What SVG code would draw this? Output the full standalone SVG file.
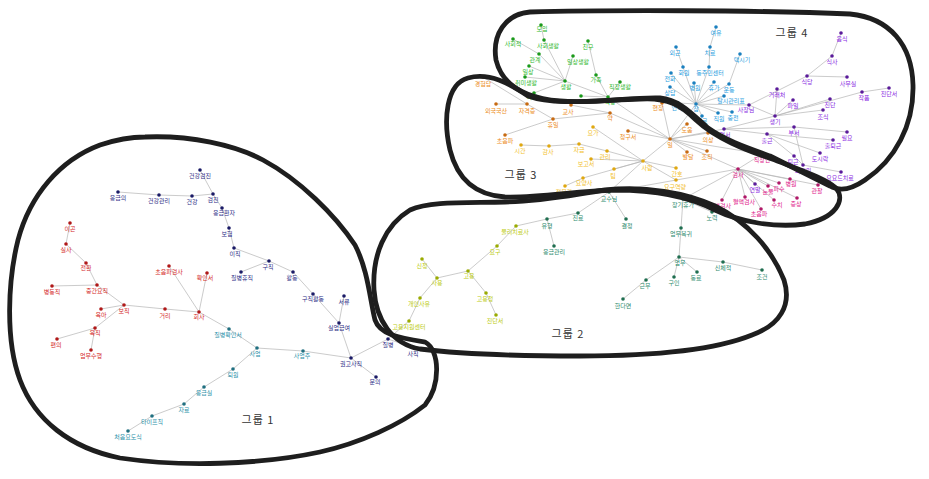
<svg xmlns="http://www.w3.org/2000/svg" width="929" height="479" viewBox="0 0 929 479">
<style>
text{font-family:"Noto Sans CJK KR","Noto Sans",sans-serif;font-size:6px;text-anchor:middle}
circle{r:1.8}
.nv circle{fill:#1a1a66}.nv text{fill:#2e2e86}
.tl circle{fill:#1f6f80}.tl text{fill:#2a90a8}
.rd circle{fill:#b01818}.rd text{fill:#d42828}
.yg circle{fill:#9aab00}.yg text{fill:#bccb10}
.gn circle{fill:#1f6e50}.gn text{fill:#2e8b6e}
.or circle{fill:#c86a10}.or text{fill:#ec8c22}
.yl circle{fill:#e0a810}.yl text{fill:#f2c12e}
.gg circle{fill:#1a9a1a}.gg text{fill:#2cb82c}
.bl circle{fill:#1a80c0}.bl text{fill:#2a9ee0}
.pu circle{fill:#5a1a9a}.pu text{fill:#8a2be2}
.mg circle{fill:#b01868}.mg text{fill:#e0208a}
#edges line{stroke:#b4b4b4;stroke-width:0.7}
.hull{fill:none;stroke:#1e1e1e;stroke-width:4.8;stroke-linejoin:round}
.gl{font-size:11px;fill:#333;letter-spacing:1px}
</style>
<rect width="929" height="479" fill="#fff"/>
<g id="edges">
<line x1="118" y1="192" x2="159" y2="195"/><line x1="159" y1="195" x2="192" y2="196"/><line x1="192" y1="196" x2="213" y2="194"/><line x1="213" y1="194" x2="200" y2="170"/><line x1="213" y1="194" x2="222" y2="208"/><line x1="222" y1="208" x2="229" y2="228"/><line x1="229" y1="228" x2="234" y2="248"/><line x1="234" y1="248" x2="269" y2="261"/><line x1="269" y1="261" x2="241" y2="272"/><line x1="269" y1="261" x2="293" y2="272"/><line x1="293" y1="272" x2="313" y2="294"/><line x1="313" y1="294" x2="339" y2="323"/><line x1="344" y1="296" x2="339" y2="323"/><line x1="339" y1="323" x2="351" y2="358"/><line x1="351" y1="358" x2="388" y2="339"/><line x1="388" y1="339" x2="414" y2="348"/><line x1="351" y1="358" x2="376" y2="377"/><line x1="351" y1="358" x2="303" y2="351"/><line x1="303" y1="351" x2="257" y2="348"/><line x1="257" y1="348" x2="229" y2="329"/><line x1="229" y1="329" x2="199" y2="312"/><line x1="257" y1="348" x2="233" y2="369"/><line x1="233" y1="369" x2="204" y2="387"/><line x1="204" y1="387" x2="184" y2="404"/><line x1="184" y1="404" x2="152" y2="416"/><line x1="152" y1="416" x2="128" y2="431"/><line x1="199" y1="312" x2="207" y2="273"/><line x1="199" y1="312" x2="169" y2="266"/><line x1="199" y1="312" x2="165" y2="309"/><line x1="165" y1="309" x2="124" y2="305"/><line x1="124" y1="305" x2="97" y2="285"/><line x1="97" y1="285" x2="52" y2="286"/><line x1="97" y1="285" x2="86" y2="263"/><line x1="86" y1="263" x2="66" y2="244"/><line x1="66" y1="244" x2="70" y2="223"/><line x1="124" y1="305" x2="101" y2="309"/><line x1="124" y1="305" x2="95" y2="328"/><line x1="95" y1="328" x2="57" y2="339"/><line x1="95" y1="328" x2="91" y2="350"/><line x1="388" y1="339" x2="409" y2="321"/>
<line x1="516" y1="226" x2="547" y2="219"/><line x1="547" y1="219" x2="578" y2="213"/><line x1="547" y1="219" x2="554" y2="246"/><line x1="516" y1="226" x2="497" y2="246"/><line x1="497" y1="246" x2="468" y2="271"/><line x1="468" y1="271" x2="437" y2="278"/><line x1="437" y1="278" x2="422" y2="259"/><line x1="437" y1="278" x2="420" y2="298"/><line x1="420" y1="298" x2="409" y2="321"/><line x1="468" y1="271" x2="486" y2="293"/><line x1="486" y1="293" x2="496" y2="315"/><line x1="578" y1="213" x2="609" y2="192"/><line x1="609" y1="192" x2="626" y2="219"/><line x1="609" y1="192" x2="738" y2="169"/><line x1="683" y1="199" x2="738" y2="169"/><line x1="683" y1="199" x2="712" y2="212"/><line x1="683" y1="199" x2="681" y2="228"/><line x1="681" y1="228" x2="679" y2="257"/><line x1="679" y1="257" x2="723" y2="262"/><line x1="723" y1="262" x2="762" y2="270"/><line x1="679" y1="257" x2="697" y2="272"/><line x1="679" y1="257" x2="674" y2="277"/><line x1="679" y1="257" x2="646" y2="280"/><line x1="646" y1="280" x2="623" y2="299"/><line x1="643" y1="161" x2="609" y2="192"/>
<line x1="483" y1="77" x2="527" y2="104"/><line x1="496" y1="104" x2="527" y2="104"/><line x1="527" y1="104" x2="553" y2="119"/><line x1="553" y1="119" x2="505" y2="135"/><line x1="553" y1="119" x2="610" y2="113"/><line x1="571" y1="105" x2="610" y2="113"/><line x1="610" y1="113" x2="670" y2="139"/><line x1="628" y1="131" x2="670" y2="139"/><line x1="662" y1="103" x2="670" y2="139"/><line x1="687" y1="124" x2="670" y2="139"/><line x1="687" y1="152" x2="670" y2="139"/><line x1="708" y1="133" x2="670" y2="139"/><line x1="707" y1="151" x2="670" y2="139"/><line x1="670" y1="139" x2="643" y2="161"/><line x1="521" y1="145" x2="549" y2="146"/><line x1="549" y1="146" x2="579" y2="144"/><line x1="579" y1="144" x2="607" y2="151"/><line x1="607" y1="151" x2="643" y2="161"/><line x1="593" y1="127" x2="643" y2="161"/><line x1="591" y1="159" x2="643" y2="161"/><line x1="614" y1="169" x2="643" y2="161"/><line x1="565" y1="186" x2="583" y2="178"/><line x1="583" y1="178" x2="643" y2="161"/><line x1="643" y1="161" x2="676" y2="168"/><line x1="643" y1="161" x2="676" y2="180"/>
<line x1="541" y1="25" x2="544" y2="40"/><line x1="544" y1="40" x2="565" y2="81"/><line x1="513" y1="39" x2="539" y2="54"/><line x1="539" y1="54" x2="565" y2="81"/><line x1="573" y1="56" x2="565" y2="81"/><line x1="529" y1="66" x2="565" y2="81"/><line x1="525" y1="77" x2="565" y2="81"/><line x1="534" y1="93" x2="565" y2="81"/><line x1="565" y1="81" x2="608" y2="97"/><line x1="588" y1="41" x2="596" y2="75"/><line x1="596" y1="75" x2="608" y2="97"/><line x1="620" y1="82" x2="608" y2="97"/><line x1="581" y1="96" x2="608" y2="97"/><line x1="608" y1="97" x2="670" y2="139"/>
<line x1="670" y1="139" x2="696" y2="104"/><line x1="670" y1="139" x2="724" y2="129"/><line x1="670" y1="139" x2="738" y2="169"/><line x1="670" y1="139" x2="762" y2="154"/>
<line x1="716" y1="27" x2="710" y2="47"/><line x1="710" y1="47" x2="709" y2="67"/><line x1="709" y1="67" x2="696" y2="104"/><line x1="676" y1="47" x2="683" y2="67"/><line x1="683" y1="67" x2="696" y2="104"/><line x1="740" y1="54" x2="729" y2="84"/><line x1="729" y1="84" x2="696" y2="104"/><line x1="671" y1="73" x2="696" y2="104"/><line x1="694" y1="83" x2="696" y2="104"/><line x1="714" y1="82" x2="696" y2="104"/><line x1="670" y1="87" x2="696" y2="104"/><line x1="724" y1="96" x2="696" y2="104"/><line x1="678" y1="103" x2="696" y2="104"/><line x1="702" y1="116" x2="696" y2="104"/><line x1="718" y1="113" x2="696" y2="104"/><line x1="732" y1="112" x2="696" y2="104"/><line x1="696" y1="104" x2="749" y2="105"/>
<line x1="841" y1="33" x2="832" y2="56"/><line x1="832" y1="56" x2="807" y2="76"/><line x1="807" y1="76" x2="847" y2="77"/><line x1="807" y1="76" x2="749" y2="105"/><line x1="777" y1="89" x2="775" y2="116"/><line x1="793" y1="100" x2="775" y2="116"/><line x1="775" y1="116" x2="862" y2="92"/><line x1="862" y1="92" x2="889" y2="88"/><line x1="830" y1="99" x2="775" y2="116"/><line x1="823" y1="110" x2="775" y2="116"/><line x1="749" y1="105" x2="775" y2="116"/><line x1="775" y1="116" x2="724" y2="129"/><line x1="724" y1="129" x2="794" y2="127"/><line x1="724" y1="129" x2="767" y2="134"/><line x1="794" y1="127" x2="847" y2="132"/><line x1="794" y1="127" x2="803" y2="165"/><line x1="767" y1="134" x2="833" y2="140"/><line x1="767" y1="134" x2="820" y2="153"/><line x1="767" y1="134" x2="794" y2="156"/><line x1="803" y1="165" x2="841" y2="172"/><line x1="794" y1="156" x2="803" y2="165"/>
<line x1="738" y1="169" x2="762" y2="154"/><line x1="738" y1="169" x2="818" y2="185"/><line x1="738" y1="169" x2="790" y2="179"/><line x1="738" y1="169" x2="779" y2="183"/><line x1="738" y1="169" x2="755" y2="184"/><line x1="738" y1="169" x2="768" y2="186"/><line x1="738" y1="169" x2="745" y2="197"/><line x1="738" y1="169" x2="774" y2="200"/><line x1="738" y1="169" x2="761" y2="209"/><line x1="738" y1="169" x2="797" y2="198"/><line x1="738" y1="169" x2="722" y2="200"/>
</g>
<g id="nodes">
<g id="a1" class="nv"><circle cx="200" cy="170"/><text x="200" y="178">건강검진</text></g>
<g id="a2" class="nv"><circle cx="118" cy="192"/><text x="118" y="200">응급의</text></g>
<g id="a3" class="nv"><circle cx="159" cy="195"/><text x="159" y="203">건강관리</text></g>
<g id="a4" class="nv"><circle cx="192" cy="196"/><text x="192" y="204">건강</text></g>
<g id="a5" class="nv"><circle cx="213" cy="194"/><text x="213" y="202">검진</text></g>
<g id="a6" class="nv"><circle cx="222" cy="208"/><text x="224" y="215">응급환자</text></g>
<g id="a7" class="nv"><circle cx="229" cy="228"/><text x="227" y="236">보험</text></g>
<g id="a8" class="nv"><circle cx="234" cy="248"/><text x="235" y="256">이직</text></g>
<g id="a9" class="nv"><circle cx="269" cy="261"/><text x="268" y="269">구직</text></g>
<g id="a10" class="nv"><circle cx="241" cy="272"/><text x="242" y="280">질병휴직</text></g>
<g id="a11" class="nv"><circle cx="293" cy="272"/><text x="292" y="280">활동</text></g>
<g id="a12" class="nv"><circle cx="313" cy="294"/><text x="313" y="301">구직활동</text></g>
<g id="a13" class="nv"><circle cx="344" cy="296"/><text x="344" y="304">서류</text></g>
<g id="a14" class="nv"><circle cx="339" cy="323"/><text x="339" y="330">실업급여</text></g>
<g id="a15" class="nv"><circle cx="351" cy="358"/><text x="351" y="366">권고사직</text></g>
<g id="a16" class="nv"><circle cx="388" cy="339"/><text x="388" y="347">질병</text></g>
<g id="a17" class="nv"><circle cx="414" cy="348"/><text x="413" y="356">사직</text></g>
<g id="a18" class="nv"><circle cx="376" cy="377"/><text x="375" y="384">문의</text></g>
<g id="b1" class="tl"><circle cx="303" cy="351"/><text x="302" y="358">사업주</text></g>
<g id="b2" class="tl"><circle cx="257" cy="348"/><text x="255" y="356">사업</text></g>
<g id="b3" class="tl"><circle cx="229" cy="329"/><text x="228" y="337">질병확인서</text></g>
<g id="b4" class="tl"><circle cx="233" cy="369"/><text x="233" y="377">퇴원</text></g>
<g id="b5" class="tl"><circle cx="204" cy="387"/><text x="204" y="395">응급실</text></g>
<g id="b6" class="tl"><circle cx="184" cy="404"/><text x="184" y="412">자료</text></g>
<g id="b7" class="tl"><circle cx="152" cy="416"/><text x="152" y="424">타이프칙</text></g>
<g id="b8" class="tl"><circle cx="128" cy="431"/><text x="128" y="439">처음요도식</text></g>
<g id="c1" class="rd"><circle cx="70" cy="223"/><text x="70" y="231">이곤</text></g>
<g id="c2" class="rd"><circle cx="66" cy="244"/><text x="66" y="252">실사</text></g>
<g id="c3" class="rd"><circle cx="86" cy="263"/><text x="86" y="270">전환</text></g>
<g id="c4" class="rd"><circle cx="169" cy="266"/><text x="169" y="274">초음파검사</text></g>
<g id="c5" class="rd"><circle cx="207" cy="273"/><text x="205" y="280">확인서</text></g>
<g id="c6" class="rd"><circle cx="52" cy="286"/><text x="52" y="294">병동직</text></g>
<g id="c7" class="rd"><circle cx="97" cy="285"/><text x="97" y="293">중간요직</text></g>
<g id="c8" class="rd"><circle cx="124" cy="305"/><text x="124" y="313">보직</text></g>
<g id="c9" class="rd"><circle cx="101" cy="309"/><text x="101" y="317">육아</text></g>
<g id="c10" class="rd"><circle cx="95" cy="328"/><text x="95" y="335">육직</text></g>
<g id="c11" class="rd"><circle cx="57" cy="339"/><text x="56" y="347">편의</text></g>
<g id="c12" class="rd"><circle cx="91" cy="350"/><text x="91" y="358">업무수행</text></g>
<g id="c13" class="rd"><circle cx="165" cy="309"/><text x="165" y="318">거리</text></g>
<g id="c14" class="rd"><circle cx="199" cy="312"/><text x="199" y="319">회사</text></g>
<g id="d1" class="yg"><circle cx="516" cy="226"/><text x="515" y="234">물리치료사</text></g>
<g id="d2" class="yg"><circle cx="497" cy="246"/><text x="495" y="254">요구</text></g>
<g id="d3" class="yg"><circle cx="468" cy="271"/><text x="469" y="278">고용</text></g>
<g id="d4" class="yg"><circle cx="437" cy="278"/><text x="437" y="285">사용</text></g>
<g id="d5" class="yg"><circle cx="422" cy="259"/><text x="422" y="268">신청</text></g>
<g id="d6" class="yg"><circle cx="420" cy="298"/><text x="419" y="306">개인사유</text></g>
<g id="d7" class="yg"><circle cx="409" cy="321"/><text x="409" y="329">고용지원센터</text></g>
<g id="d8" class="yg"><circle cx="486" cy="293"/><text x="485" y="301">고용청</text></g>
<g id="d9" class="yg"><circle cx="496" cy="315"/><text x="495" y="323">진단서</text></g>
<g id="e1" class="gn"><circle cx="547" cy="219"/><text x="547" y="228">유형</text></g>
<g id="e2" class="gn"><circle cx="578" cy="213"/><text x="578" y="220">진료</text></g>
<g id="e3" class="gn"><circle cx="554" cy="246"/><text x="554" y="254">응급관리</text></g>
<g id="e4" class="gn"><circle cx="609" cy="192"/><text x="609" y="201">교수님</text></g>
<g id="e5" class="gn"><circle cx="626" cy="219"/><text x="627" y="228">결정</text></g>
<g id="e6" class="gn"><circle cx="683" cy="199"/><text x="683" y="207">장기휴가</text></g>
<g id="e7" class="gn"><circle cx="712" cy="212"/><text x="712" y="220">노력</text></g>
<g id="e8" class="gn"><circle cx="681" cy="228"/><text x="681" y="236">업무복귀</text></g>
<g id="e9" class="gn"><circle cx="679" cy="257"/><text x="680" y="265">업무</text></g>
<g id="e10" class="gn"><circle cx="723" cy="262"/><text x="723" y="270">신체적</text></g>
<g id="e11" class="gn"><circle cx="762" cy="270"/><text x="762" y="279">조건</text></g>
<g id="e12" class="gn"><circle cx="697" cy="272"/><text x="696" y="280">동료</text></g>
<g id="e13" class="gn"><circle cx="674" cy="277"/><text x="674" y="285">구인</text></g>
<g id="e14" class="gn"><circle cx="646" cy="280"/><text x="645" y="288">근무</text></g>
<g id="e15" class="gn"><circle cx="623" cy="299"/><text x="623" y="308">한다면</text></g>
<g id="f1" class="or"><circle cx="483" cy="77"/><text x="483" y="86">경험담</text></g>
<g id="f2" class="or"><circle cx="496" cy="104"/><text x="496" y="113">외국국산</text></g>
<g id="f3" class="or"><circle cx="527" cy="104"/><text x="527" y="113">자격증</text></g>
<g id="f4" class="or"><circle cx="553" cy="119"/><text x="553" y="127">휴일</text></g>
<g id="f5" class="or"><circle cx="505" cy="135"/><text x="505" y="143">초음파</text></g>
<g id="f6" class="or"><circle cx="571" cy="105"/><text x="568" y="114">교사</text></g>
<g id="f7" class="or"><circle cx="610" cy="113"/><text x="610" y="120">약</text></g>
<g id="f8" class="or"><circle cx="628" cy="131"/><text x="628" y="139">청구서</text></g>
<g id="f9" class="or"><circle cx="662" cy="103"/><text x="658" y="110">현장</text></g>
<g id="f10" class="or"><circle cx="670" cy="139"/><text x="670" y="147">일</text></g>
<g id="f11" class="or"><circle cx="687" cy="124"/><text x="687" y="132">도움</text></g>
<g id="f12" class="or"><circle cx="687" cy="152"/><text x="688" y="159">발달</text></g>
<g id="f13" class="or"><circle cx="708" cy="133"/><text x="708" y="142">의상</text></g>
<g id="f14" class="or"><circle cx="707" cy="151"/><text x="707" y="159">조직</text></g>
<g id="g1" class="yl"><circle cx="593" cy="127"/><text x="593" y="135">요가</text></g>
<g id="g2" class="yl"><circle cx="521" cy="145"/><text x="520" y="153">시간</text></g>
<g id="g3" class="yl"><circle cx="549" cy="146"/><text x="548" y="154">감사</text></g>
<g id="g4" class="yl"><circle cx="579" cy="144"/><text x="579" y="152">자금</text></g>
<g id="g5" class="yl"><circle cx="607" cy="151"/><text x="605" y="159">관리</text></g>
<g id="g6" class="yl"><circle cx="591" cy="159"/><text x="586" y="166">보고서</text></g>
<g id="g7" class="yl"><circle cx="614" cy="169"/><text x="613" y="178">팀</text></g>
<g id="g8" class="yl"><circle cx="583" cy="178"/><text x="584" y="185">요양사</text></g>
<g id="g9" class="yl"><circle cx="565" cy="186"/><text x="564" y="194">전문가</text></g>
<g id="g10" class="yl"><circle cx="643" cy="161"/><text x="647" y="170">사람</text></g>
<g id="g11" class="yl"><circle cx="676" cy="168"/><text x="677" y="176">간호</text></g>
<g id="g12" class="yl"><circle cx="676" cy="180"/><text x="675" y="189">요구역량</text></g>
<g id="h1" class="gg"><circle cx="541" cy="25"/><text x="542" y="31">모임</text></g>
<g id="h2" class="gg"><circle cx="513" cy="39"/><text x="513" y="46">사회적</text></g>
<g id="h3" class="gg"><circle cx="544" cy="40"/><text x="548" y="48">사회생활</text></g>
<g id="h4" class="gg"><circle cx="588" cy="41"/><text x="588" y="49">친구</text></g>
<g id="h5" class="gg"><circle cx="539" cy="54"/><text x="535" y="62">관계</text></g>
<g id="h6" class="gg"><circle cx="573" cy="56"/><text x="578" y="64">일상생활</text></g>
<g id="h7" class="gg"><circle cx="529" cy="66"/><text x="528" y="74">일상</text></g>
<g id="h8" class="gg"><circle cx="596" cy="75"/><text x="596" y="82">가족</text></g>
<g id="h9" class="gg"><circle cx="620" cy="82"/><text x="620" y="89">직장생활</text></g>
<g id="h10" class="gg"><circle cx="525" cy="77"/><text x="526" y="85">취미생활</text></g>
<g id="h11" class="gg"><circle cx="565" cy="81"/><text x="566" y="89">생활</text></g>
<g id="h12" class="gg"><circle cx="534" cy="93"/><text x="532" y="99">여가</text></g>
<g id="h13" class="gg"><circle cx="581" cy="96"/></g>
<g id="h14" class="gg"><circle cx="608" cy="97"/><text x="610" y="104">직장</text></g>
<g id="i0" class="bl"><circle cx="696" cy="104"/><text x="696" y="111">잠</text></g>
<g id="i1" class="bl"><circle cx="716" cy="27"/><text x="716" y="35">여유</text></g>
<g id="i2" class="bl"><circle cx="710" cy="47"/><text x="710" y="55">치료</text></g>
<g id="i3" class="bl"><circle cx="676" cy="47"/><text x="675" y="55">외근</text></g>
<g id="i4" class="bl"><circle cx="740" cy="54"/><text x="742" y="62">택시기</text></g>
<g id="i5" class="bl"><circle cx="709" cy="67"/><text x="710" y="75">동주민센터</text></g>
<g id="i6" class="bl"><circle cx="683" cy="67"/><text x="684" y="75">화원</text></g>
<g id="i7" class="bl"><circle cx="671" cy="73"/><text x="670" y="81">전화</text></g>
<g id="i8" class="bl"><circle cx="694" cy="83"/><text x="695" y="90">병원</text></g>
<g id="i9" class="bl"><circle cx="714" cy="82"/><text x="714" y="90">휴가</text></g>
<g id="i10" class="bl"><circle cx="729" cy="84"/><text x="729" y="92">운동</text></g>
<g id="i11" class="bl"><circle cx="670" cy="87"/><text x="670" y="95">상담</text></g>
<g id="i12" class="bl"><circle cx="724" cy="96"/><text x="731" y="103">탈시관리표</text></g>
<g id="i13" class="bl"><circle cx="678" cy="103"/><text x="677" y="110">연락</text></g>
<g id="i14" class="bl"><circle cx="702" cy="116"/><text x="702" y="123">진료</text></g>
<g id="i15" class="bl"><circle cx="718" cy="113"/><text x="719" y="121">직원</text></g>
<g id="i16" class="bl"><circle cx="732" cy="112"/><text x="733" y="120">충전</text></g>
<g id="j1" class="pu"><circle cx="841" cy="33"/><text x="842" y="41">음식</text></g>
<g id="j2" class="pu"><circle cx="832" cy="56"/><text x="832" y="64">식사</text></g>
<g id="j3" class="pu"><circle cx="807" cy="76"/><text x="807" y="84">식당</text></g>
<g id="j4" class="pu"><circle cx="847" cy="77"/><text x="848" y="86">사무실</text></g>
<g id="j5" class="pu"><circle cx="777" cy="89"/><text x="777" y="97">거래처</text></g>
<g id="j6" class="pu"><circle cx="862" cy="92"/><text x="864" y="100">작품</text></g>
<g id="j7" class="pu"><circle cx="889" cy="88"/><text x="889" y="96">진단서</text></g>
<g id="j8" class="pu"><circle cx="793" cy="100"/><text x="793" y="108">파일</text></g>
<g id="j9" class="pu"><circle cx="749" cy="105"/><text x="746" y="112">사장님</text></g>
<g id="j10" class="pu"><circle cx="775" cy="116"/><text x="775" y="124">생기</text></g>
<g id="j11" class="pu"><circle cx="830" cy="99"/><text x="830" y="107">진단</text></g>
<g id="j12" class="pu"><circle cx="823" cy="110"/><text x="823" y="119">조식</text></g>
<g id="j13" class="pu"><circle cx="724" cy="129"/><text x="725" y="137">업서</text></g>
<g id="j14" class="pu"><circle cx="794" cy="127"/><text x="794" y="135">부서</text></g>
<g id="j15" class="pu"><circle cx="847" cy="132"/><text x="847" y="140">필요</text></g>
<g id="j16" class="pu"><circle cx="767" cy="134"/><text x="767" y="143">출근</text></g>
<g id="j17" class="pu"><circle cx="833" cy="140"/><text x="833" y="148">출퇴근</text></g>
<g id="j18" class="pu"><circle cx="820" cy="153"/><text x="820" y="161">도시락</text></g>
<g id="j19" class="pu"><circle cx="794" cy="156"/><text x="793" y="164">퇴근</text></g>
<g id="j20" class="pu"><circle cx="803" cy="165"/><text x="803" y="173">퇴직원</text></g>
<g id="j21" class="pu"><circle cx="841" cy="172"/><text x="840" y="180">요요드치료</text></g>
<g id="k0" class="mg"><circle cx="738" cy="169"/><text x="738" y="177">검사</text></g>
<g id="k1" class="mg"><circle cx="762" cy="154"/><text x="762" y="162">직장인</text></g>
<g id="k2" class="mg"><circle cx="818" cy="185"/><text x="817" y="193">관찰</text></g>
<g id="k3" class="mg"><circle cx="790" cy="179"/><text x="791" y="186">병원</text></g>
<g id="k4" class="mg"><circle cx="779" cy="183"/><text x="779" y="191">파수</text></g>
<g id="k5" class="pu"><circle cx="755" cy="184"/><text x="755" y="192">연말</text></g>
<g id="k6" class="mg"><circle cx="768" cy="186"/><text x="768" y="194">눈물</text></g>
<g id="k7" class="mg"><circle cx="745" cy="197"/><text x="744" y="204">혈액검사</text></g>
<g id="k8" class="mg"><circle cx="774" cy="200"/><text x="777" y="207">수치</text></g>
<g id="k9" class="mg"><circle cx="761" cy="209"/><text x="759" y="216">초음파</text></g>
<g id="k10" class="mg"><circle cx="797" cy="198"/><text x="796" y="206">증상</text></g>
<g id="k11" class="mg"><circle cx="722" cy="200"/><text x="720" y="208">소변검사</text></g>
</g>
<g id="groups">
<path class="hull" d="M145,137 C190,135 235,145 263,160 C300,180 335,215 355,245 C368,270 370,300 375,320 C380,335 400,338 425,342 C440,350 441,385 425,405 C400,425 360,443 320,452 C260,465 180,467 120,458 C70,448 35,420 20,380 C5,340 8,280 18,240 C30,195 60,160 100,145 C115,140 130,137 145,137 Z"/>
<path class="hull" d="M374,290 C372,255 385,225 410,210 C430,201 465,203 505,202 C545,201 570,195 605,190 C645,186 685,192 715,206 C748,222 772,250 784,280 C792,305 780,325 752,335 C715,350 650,356 580,356 C520,356 460,354 420,349 C392,344 376,320 374,290 Z"/>
<path class="hull" d="M468,78 C490,72 510,84 528,96 C555,106 600,100 640,99 C668,97 682,106 696,120 C715,138 745,150 775,160 C800,170 825,178 836,188 C846,200 836,218 805,224 C775,228 740,222 715,210 C690,197 655,190 615,190 C575,191 540,198 505,197 C475,195 457,178 450,150 C443,120 446,84 468,78 Z"/>
<path class="hull" d="M530,12 C600,10 760,10 850,14 C890,18 912,45 913,85 C914,125 895,160 865,180 C852,189 840,192 830,186 C810,176 790,166 770,156 C745,147 725,140 708,128 C692,114 680,100 660,98 C630,97 595,104 560,101 C525,98 502,85 496,60 C492,35 505,14 530,12 Z"/>
<text class="gl" x="258" y="424">그룹 1</text>
<text class="gl" x="568" y="338">그룹 2</text>
<text class="gl" x="521" y="179">그룹 3</text>
<text class="gl" x="792" y="37">그룹 4</text>
</g>
</svg>
